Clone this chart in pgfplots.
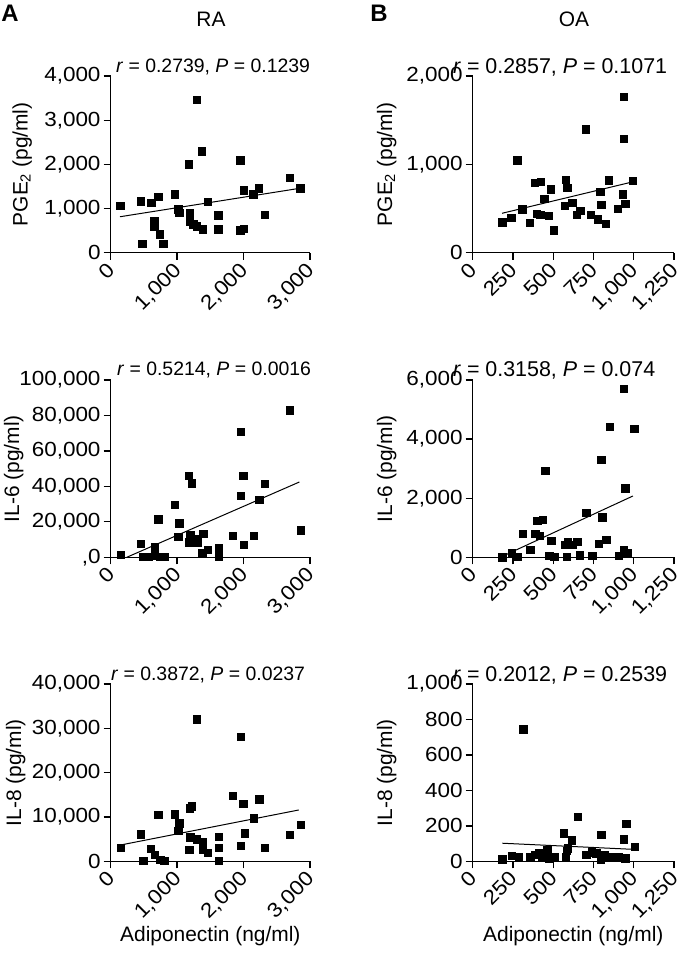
\documentclass[border=0pt]{standalone}
\usepackage{fontspec}
\setmainfont{Liberation Sans}
\newfontfamily\tickfont{Liberation Sans}[FakeStretch=1.1]
\usepackage{pgfplots}
\pgfplotsset{compat=1.18}
\pgfplotsset{
 myax/.style={
   scale only axis, axis lines*=left, clip=false,
   axis line style={line width=1.4bp, -},
   tick style={black, line width=1.3bp},
   tick align=outside, major tick length=7bp,
   font=\fontsize{21}{25}\selectfont,
   /pgf/number format/assume math mode=true,
   /pgf/number format/1000 sep={,},
   xticklabel={\pgfmathprintnumber{\tick}},
   yticklabel={\pgfmathprintnumber{\tick}},
   scaled ticks=false,
   xmin=0, ymin=0,
   anchor=south west,
   xticklabel style={font=\tickfont\fontsize{20.5}{24}\selectfont, xshift=-5bp, rotate=45, anchor=north east, inner sep=1bp},
   yticklabel style={font=\tickfont\fontsize{20.5}{24}\selectfont, inner sep=3bp},
   every axis y label/.style={at={(axis description cs:0,0.5)}, rotate=90, anchor=center},
 },
 rax/.style={myax, width=199.3bp, xmax=3000, xtick={0,1000,2000,3000}},
 oax/.style={myax, width=201.3bp, xmax=1250, xtick={0,250,...,1250}},
 pts/.style={only marks, mark=square*, mark size=3.7bp, black},
 fitl/.style={black, line width=1bp, no marks},
}
\begin{document}
\begin{tikzpicture}
\path[use as bounding box] (0bp,0bp) rectangle (685bp,-960bp);
\node[font=\fontsize{24}{28}\selectfont\bfseries] at (10bp,-13bp) {A};
\node[font=\fontsize{24}{28}\selectfont\bfseries] at (379bp,-13bp) {B};
\node[font=\fontsize{21}{25}\selectfont] at (211bp,-19bp) {RA};
\node[font=\fontsize{21}{25}\selectfont] at (574bp,-19bp) {OA};
% stats
\node[font=\fontsize{19.5}{23}\selectfont] at (213bp,-67bp) {\textit{r} = 0.2739, \textit{P} = 0.1239};
\node[font=\fontsize{21.5}{25}\selectfont,anchor=west,inner sep=0pt] at (453bp,-67bp) {\textit{r} = 0.2857, \textit{P} = 0.1071};
\node[font=\fontsize{19.5}{23}\selectfont] at (214bp,-370bp) {\textit{r} = 0.5214, \textit{P} = 0.0016};
\node[font=\fontsize{21.5}{25}\selectfont,anchor=west,inner sep=0pt] at (453bp,-370bp) {\textit{r} = 0.3158, \textit{P} = 0.074};
\node[font=\fontsize{19.5}{23}\selectfont] at (208bp,-675bp) {\textit{r} = 0.3872, \textit{P} = 0.0237};
\node[font=\fontsize{21.5}{25}\selectfont,anchor=west,inner sep=0pt] at (453bp,-675bp) {\textit{r} = 0.2012, \textit{P} = 0.2539};

% RA PGE2
\begin{axis}[rax, at={(110.7bp,-252.7bp)}, height=176.7bp, ymax=4000, ytick={0,1000,...,4000},
  ylabel={PGE\textsubscript{2} (pg/ml)}, ylabel style={yshift=88.5bp}]
\addplot[pts] coordinates {(140,1063)(452,1170)(607,1131)(712,1267)(476,204)(657,717)(657,604)(738,416)(788,204)(964,1328)(1014,981)(1033,905)(1175,2006)(1295,3461)(1370,2300)(1190,905)(1190,717)(1244,642)(1295,604)(1385,529)(1461,1154)(1620,853)(1620,529)(1952,2097)(1952,513)(2003,543)(2003,1418)(2143,1328)(2229,1456)(2319,860)(2690,1697)(2855,1456)};
\addplot[fitl] coordinates {(140,814)(2855,1460)};
\end{axis}

% OA PGE2
\begin{axis}[oax, at={(472.7bp,-252.7bp)}, height=176.7bp, ymax=2000, ytick={0,1000,2000},
  ylabel={PGE\textsubscript{2} (pg/ml)}, ylabel style={yshift=86bp}]
\addplot[pts] coordinates {(182,346)(240,393)(277,1049)(307,493)(354,338)(386,795)(423,807)(398,441)(443,608)(473,417)(485,720)(504,255)(578,827)(587,739)(570,533)(618,569)(644,429)(667,473)(700,1399)(734,429)(777,381)(792,688)(798,541)(825,330)(846,819)(902,501)(933,660)(937,1764)(937,1287)(947,557)(995,815)(420,430)};
\addplot[fitl] coordinates {(182,446)(978,795)};
\end{axis}

% RA IL-6
\begin{axis}[rax, at={(110.7bp,-557.3bp)}, height=177.3bp, ymax=100000, ytick={0,20000,...,100000},
  yticklabels={{,0},{20,000},{40,000},{60,000},{80,000},{100,000}},
  ylabel={IL-6 (pg/ml)}, ylabel style={yshift=97bp}]
\addplot[pts] coordinates {(151,1504)(452,7708)(492,400)(567,400)(658,6016)(713,21432)(658,1300)(743,400)(803,400)(964,29704)(1029,19176)(1019,11656)(1175,45872)(1215,41736)(1195,12596)(1175,8460)(1260,10340)(1300,8460)(1391,13160)(1375,2256)(1456,4136)(1626,5076)(1626,376)(1837,12220)(1953,34592)(1953,70688)(1993,45872)(2003,7144)(2149,12220)(2234,32524)(2319,41360)(2691,82908)(2856,15228)};
\addplot[fitl] coordinates {(241,0)(2841,42488)};
\end{axis}

% OA IL-6
\begin{axis}[oax, at={(472.7bp,-557.3bp)}, height=177.3bp, ymax=6000, ytick={0,2000,4000,6000},
  ylabel={IL-6 (pg/ml)}, ylabel style={yshift=86bp}]
\addplot[pts] coordinates {(184,0)(242,158)(280,22)(309,790)(357,248)(388,790)(401,1230)(434,1263)(417,733)(449,2921)(488,564)(476,45)(507,22)(582,22)(574,417)(591,530)(622,417)(649,530)(666,68)(705,1512)(741,45)(783,462)(797,3305)(803,1354)(830,587)(851,4422)(908,45)(939,5696)(948,2335)(939,248)(960,135)(1002,4343)};
\addplot[fitl] coordinates {(182,27)(995,2075)};
\end{axis}

% RA IL-8
\begin{axis}[rax, at={(110.7bp,-861.3bp)}, height=177.3bp, ymax=40000, ytick={0,10000,...,40000},
  ylabel={IL-8 (pg/ml)}, ylabel style={yshift=95bp}, xlabel={Adiponectin (ng/ml)}]
\addplot[pts] coordinates {(151,3083)(452,6091)(492,75)(602,2858)(658,1429)(713,10453)(743,300)(803,75)(964,10603)(1029,8573)(1019,6918)(1185,11957)(1215,12408)(1195,5414)(1180,2557)(1295,32035)(1295,4963)(1386,4437)(1381,2707)(1461,1955)(1626,5565)(1626,3083)(1626,75)(1837,14739)(1958,28125)(1953,3459)(1993,12934)(2013,6317)(2154,9700)(2234,13987)(2319,3083)(2696,5940)(2856,8272)};
\addplot[fitl] coordinates {(151,3685)(2831,11580)};
\end{axis}

% OA IL-8
\begin{axis}[oax, at={(472.7bp,-861.3bp)}, height=177.3bp, ymax=1000, ytick={0,200,...,1000},
  ylabel={IL-8 (pg/ml)}, ylabel style={yshift=86bp}, xlabel={Adiponectin (ng/ml)}]
\addplot[pts] coordinates {(184,11)(242,30)(286,23)(313,744)(357,26)(386,36)(409,45)(430,23)(463,64)(476,17)(507,26)(576,26)(582,60)(591,73)(564,158)(616,120)(651,252)(705,36)(739,51)(766,45)(797,149)(793,11)(818,36)(839,26)(876,26)(908,26)(939,124)(952,211)(948,17)(1006,83)};
\addplot[fitl] coordinates {(184,102)(985,68)};
\end{axis}
\end{tikzpicture}
\end{document}
